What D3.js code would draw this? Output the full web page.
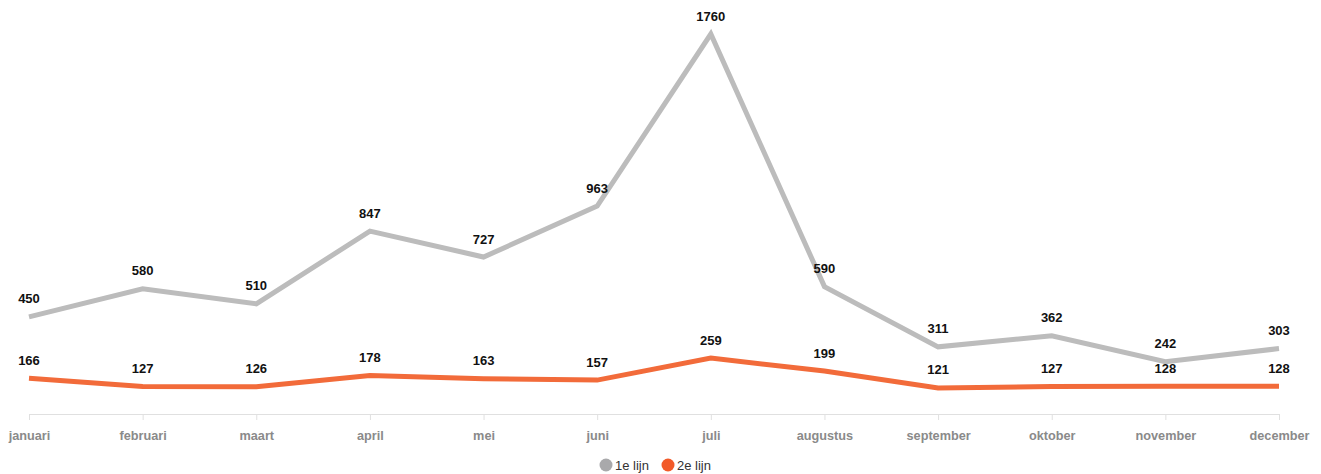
<!DOCTYPE html>
<html>
<head>
<meta charset="utf-8">
<script src="https://cdn.jsdelivr.net/npm/d3@7"></script>
<style>
  body { margin: 0; background: #fff; font-family: Arial, "Liberation Sans", sans-serif; }
</style>
</head>
<body>
<script>
var months = ["januari", "februari", "maart", "april", "mei", "juni", "juli", "augustus", "september", "oktober", "november", "december"];
var lijn1 = [450, 580, 510, 847, 727, 963, 1760, 590, 311, 362, 242, 303];
var lijn2 = [166, 127, 126, 178, 163, 157, 259, 199, 121, 127, 128, 128];
var seriesNames = ["1e lijn", "2e lijn"];
var lineColors = ["#bcbcbc", "#f26b3a"];
var legendColors = ["#a9a9ab", "#f25a28"];

var width = 1321, height = 474;

var svg = d3.select("body").append("svg")
  .attr("width", width)
  .attr("height", height);

// scales
var x = d3.scalePoint()
  .domain(months)
  .range([29, 1279]);

var y = d3.scaleLinear()
  .domain([0, 1760])
  .range([414, 34]);

// x axis
var xaxis = d3.axisBottom(x)
  .tickSize(6)
  .tickSizeOuter(0)
  .tickPadding(11);

var gx = svg.append("g")
  .attr("transform", "translate(0," + y(0) + ")")
  .call(xaxis);
gx.select(".domain").attr("stroke", "#e0e0e0").attr("d", "M" + x(months[0]) + ",0.5H" + x(months[11]));
gx.selectAll(".tick line").attr("stroke", "#e0e0e0");
gx.selectAll(".tick text")
  .attr("fill", "#8a8a8a")
  .style("font-size", "12.7px")
  .style("font-weight", "bold")
  .style("font-family", "Arial, 'Liberation Sans', sans-serif");

// lines
var line = d3.line()
  .x(function(d, i) { return x(months[i]); })
  .y(function(d) { return y(d); });

[lijn1, lijn2].forEach(function(data, s) {
  svg.append("path")
    .datum(data)
    .attr("d", line)
    .attr("fill", "none")
    .attr("stroke", lineColors[s])
    .attr("stroke-width", 5)
    .attr("stroke-linejoin", "miter");
});

// value labels
[lijn1, lijn2].forEach(function(data, s) {
  svg.selectAll(".lbl" + s)
    .data(data)
    .enter()
    .append("text")
    .attr("class", "lbl" + s)
    .attr("x", function(d, i) { return x(months[i]); })
    .attr("y", function(d) { return y(d) - 13.5; })
    .attr("text-anchor", "middle")
    .style("font-size", "13px")
    .style("font-weight", "bold")
    .attr("fill", "#111")
    .text(function(d) { return d; });
});

// legend
var legend = svg.append("g")
  .attr("transform", "translate(606,465)");

var items = legend.selectAll("g")
  .data(seriesNames)
  .enter()
  .append("g")
  .attr("transform", function(d, i) { return "translate(" + (i * 62) + ",0)"; });

items.append("circle")
  .attr("r", 6.5)
  .attr("fill", function(d, i) { return legendColors[i]; });

items.append("text")
  .attr("x", 9)
  .attr("y", 4.5)
  .style("font-size", "13px")
  .attr("fill", "#333")
  .text(function(d) { return d; });
</script>
</body>
</html>
